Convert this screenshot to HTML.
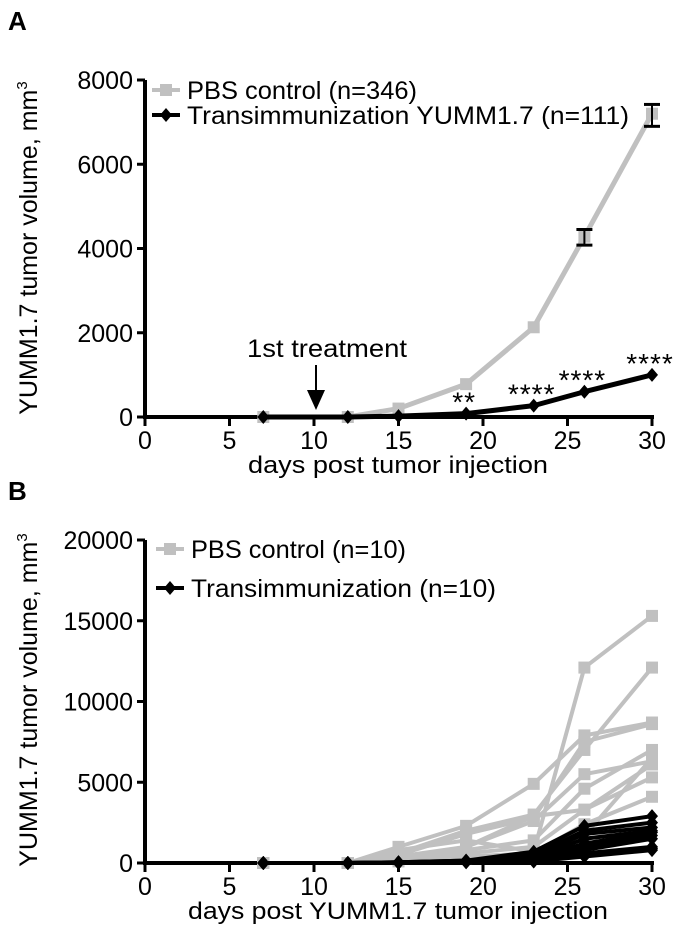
<!DOCTYPE html>
<html><head><meta charset="utf-8"><style>
body{margin:0;background:#fff}
svg{display:block;font-family:"Liberation Sans",sans-serif}
</style></head><body>
<svg id="fig" width="700" height="938">
<text x="8" y="30" font-size="26" font-weight="bold">A</text>
<text x="8" y="500" font-size="26" font-weight="bold">B</text>
<g id="gA"></g>
<g id="gB"></g>
</svg>
<script>
const days = [7, 12, 15, 19, 23, 26, 30];
const aPbs = [0, 0, 200, 780, 2130, 4280, 7200];
const aPbsLo = [0, 0, 0, 0, 0, 4080, 6900];
const aPbsHi = [0, 0, 0, 0, 0, 4450, 7420];
const aTx = [0, 0, 20, 80, 270, 600, 1000];
const aStars = ["", "", "", "**", "****", "****", "****"];
const xTicks = [0, 5, 10, 15, 20, 25, 30];
const aYTicks = [0, 2000, 4000, 6000, 8000];
const bYTicks = [0, 5000, 10000, 15000, 20000];
const bPbs1 = [0, 0, 1000, 2300, 4900, 7900, 8700];
const bPbs2 = [0, 0, 800, 1400, 700, 12100, 15300];
const bPbs3 = [0, 0, 600, 2000, 3000, 7000, 12100];
const bPbs4 = [0, 0, 500, 1800, 2800, 7500, 8600];
const bPbs5 = [0, 0, 400, 1000, 2600, 5500, 6300];
const bPbs6 = [0, 0, 300, 800, 1400, 4600, 7000];
const bPbs7 = [0, 0, 300, 600, 1000, 3300, 6100];
const bPbs8 = [0, 0, 200, 1000, 2900, 3300, 5300];
const bPbs9 = [0, 0, 200, 400, 600, 2400, 4100];
const bPbs10 = [0, 0, 100, 300, 500, 1700, 6500];
const bTx1 = [0, 0, 50, 150, 700, 2300, 2900];
const bTx2 = [0, 0, 50, 150, 500, 2000, 2500];
const bTx3 = [0, 0, 40, 120, 400, 1800, 2200];
const bTx4 = [0, 0, 40, 120, 300, 1500, 2000];
const bTx5 = [0, 0, 30, 100, 300, 1200, 1900];
const bTx6 = [0, 0, 30, 100, 200, 1000, 1700];
const bTx7 = [0, 0, 20, 80, 200, 800, 1500];
const bTx8 = [0, 0, 20, 80, 100, 600, 1000];
const bTx9 = [0, 0, 10, 50, 100, 500, 900];
const bTx10 = [0, 0, 10, 50, 100, 400, 800];

const NS = "http://www.w3.org/2000/svg";
function mk(parent, tag, attrs, text) {
  const e = document.createElementNS(NS, tag);
  for (const k in attrs) e.setAttribute(k, attrs[k]);
  if (text !== undefined) e.textContent = text;
  parent.appendChild(e);
  return e;
}
const X0 = 145, X1 = 652;
const xs = d => X0 + (X1 - X0) * d / 30;

function axes(g, y0, y1, ymax, yTicks, xTitle, xTitleLen, yTitleY) {
  const ys = v => y0 - (y0 - y1) * v / ymax;
  const yl = mk(g, "line", {x1: X0, y1: y1, x2: X0, y2: y0 + 2, stroke: "#000", "stroke-width": 4});
  
  
  const xl = mk(g, "line", {x1: X0 - 2, y1: y0, x2: X1 + 2, y2: y0, stroke: "#000", "stroke-width": 4});
  
  
  yTicks.forEach(v => {
    mk(g, "line", {x1: X0 - 8, y1: ys(v), x2: X0, y2: ys(v), stroke: "#000", "stroke-width": 3});
    const t = mk(g, "text", {x: X0 - 12, y: ys(v) + 9, "font-size": 25, "text-anchor": "end"}, String(v));
    
    
  });
  xTicks.forEach(v => {
    mk(g, "line", {x1: xs(v), y1: y0, x2: xs(v), y2: y0 + 9, stroke: "#000", "stroke-width": 3});
    const t = mk(g, "text", {x: xs(v), y: y0 + 32, "font-size": 25, "text-anchor": "middle"}, String(v));
    
    
  });
  const xt = mk(g, "text", {x: 398, y: y0 + 56, "font-size": 24, "text-anchor": "middle", textLength: xTitleLen, lengthAdjust: "spacingAndGlyphs"}, xTitle);
  
  
  const yt = mk(g, "text", {x: 0, y: 0, "font-size": 25, "text-anchor": "middle", transform: `translate(37,${yTitleY}) rotate(-90)`});
  yt.textContent = "YUMM1.7 tumor volume, mm";
  mk(yt, "tspan", {dy: -10, "font-size": 15}, "3");
  
  
  return ys;
}
function marker(g, type, x, y, color, s) {
  if (type === "sq") return mk(g, "rect", {x: x - s, y: y - s, width: 2 * s, height: 2 * s, fill: color});
  return mk(g, "polygon", {points: `${x},${y - s - 1} ${x + s},${y} ${x},${y + s + 1} ${x - s},${y}`, fill: color});
}
function series(g, vals, ys, color, type, w, name) {
  const pts = vals.map((v, i) => xs(days[i]) + "," + ys(v)).join(" ");
  const pl = mk(g, "polyline", {points: pts, fill: "none", stroke: color, "stroke-width": w, "stroke-linejoin": "round"});
  
  
  vals.forEach((v, i) => {
    const m = marker(g, type, xs(days[i]), ys(v), color, 6);
    
    
  });
}
function legend(g, x, y, color, type, label, len, name) {
  const lg = mk(g, "g", {});
  
  
  mk(lg, "line", {x1: x - 14, y1: y, x2: x + 14, y2: y, stroke: color, "stroke-width": 4});
  marker(lg, type, x, y, color, 6);
  mk(lg, "text", {x: x + 21, y: y + 9, "font-size": 25, textLength: len, lengthAdjust: "spacingAndGlyphs"}, label);
}

// Panel A
const gA = document.getElementById("gA");
const ysA = axes(gA, 417, 80, 8000, aYTicks, "days post tumor injection", 300, 248);
series(gA, aPbs, ysA, "#c0c0c0", "sq", 5, "pbs-control-line");
aPbsHi.forEach((hi, i) => {
  if (!hi) return;
  const x = xs(days[i]);
  const eb = mk(gA, "g", {});
  
  
  mk(eb, "line", {x1: x, y1: ysA(hi), x2: x, y2: ysA(aPbsLo[i]), stroke: "#000", "stroke-width": 2});
  mk(eb, "line", {x1: x - 8, y1: ysA(hi), x2: x + 8, y2: ysA(hi), stroke: "#000", "stroke-width": 3});
  mk(eb, "line", {x1: x - 8, y1: ysA(aPbsLo[i]), x2: x + 8, y2: ysA(aPbsLo[i]), stroke: "#000", "stroke-width": 3});
});
series(gA, aTx, ysA, "#000", "dia", 5, "transimmunization-line");
aStars.forEach((s, i) => {
  if (!s) return;
  const t = mk(gA, "text", {x: xs(days[i]) - 2, y: ysA(aTx[i]) - 2, "font-size": 28, "text-anchor": "middle", "letter-spacing": "1"}, s);
  
  
});
const ann = mk(gA, "text", {x: 327, y: 357, "font-size": 25, "text-anchor": "middle", textLength: 160, lengthAdjust: "spacingAndGlyphs"}, "1st treatment");


mk(gA, "line", {x1: 316, y1: 365, x2: 316, y2: 395, stroke: "#000", "stroke-width": 2});
const arr = mk(gA, "polygon", {points: "307,390 325,390 316,410", fill: "#000"});


legend(gA, 166, 90, "#c0c0c0", "sq", "PBS control (n=346)", 230, "legend-pbs");
legend(gA, 166, 115, "#000", "dia", "Transimmunization YUMM1.7 (n=111)", 442, "legend-transimmunization");

// Panel B
const gB = document.getElementById("gB");
const ysB = axes(gB, 863, 540, 20000, bYTicks, "days post YUMM1.7 tumor injection", 420, 700);
[bPbs1, bPbs2, bPbs3, bPbs4, bPbs5, bPbs6, bPbs7, bPbs8, bPbs9, bPbs10].forEach((s, i) =>
  series(gB, s, ysB, "#c0c0c0", "sq", 4, "pbs-mouse-" + (i + 1)));
[bTx1, bTx2, bTx3, bTx4, bTx5, bTx6, bTx7, bTx8, bTx9, bTx10].forEach((s, i) =>
  series(gB, s, ysB, "#000", "dia", 4, "tx-mouse-" + (i + 1)));
legend(gB, 170, 549, "#c0c0c0", "sq", "PBS control (n=10)", 215, "legend-pbs-b");
legend(gB, 170, 588, "#000", "dia", "Transimmunization (n=10)", 305, "legend-transimmunization-b");
</script>
</body></html>
